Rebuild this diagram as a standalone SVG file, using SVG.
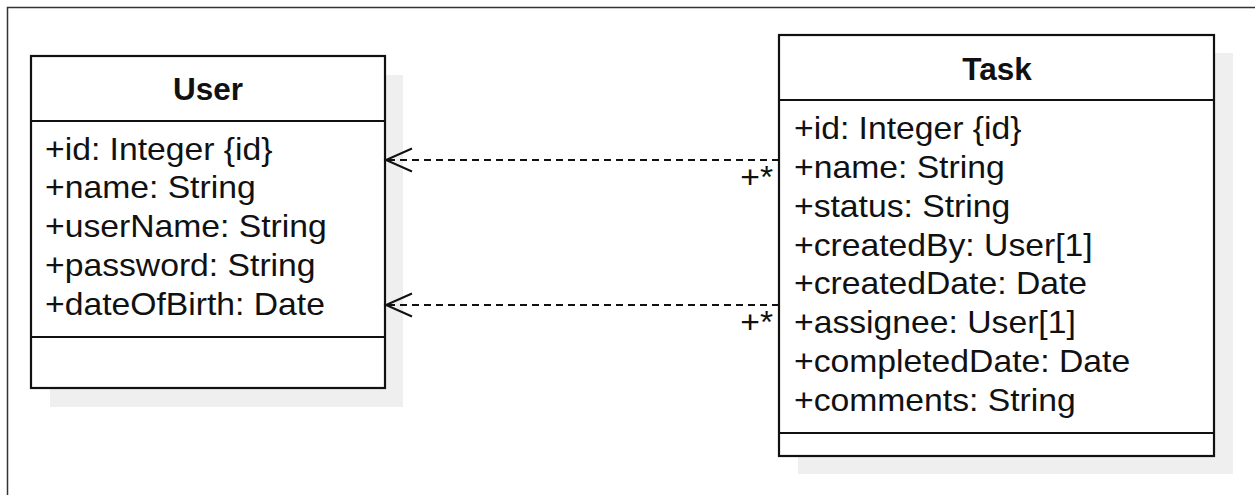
<svg xmlns="http://www.w3.org/2000/svg" width="1255" height="495" viewBox="0 0 1255 495">
<style>
.box{fill:#ffffff;stroke:#111111;stroke-width:2.2}
.shadow{fill:#efefef;stroke:none}
.div{stroke:#111111;stroke-width:2.2}
.title{font-family:"Liberation Sans",Arial,sans-serif;font-weight:bold;font-size:31.5px;fill:#111111;text-anchor:middle}
.attr{font-family:"Liberation Sans",Arial,sans-serif;font-size:30.5px;fill:#111111}
.mult{font-family:"Liberation Sans",Arial,sans-serif;font-size:30.5px;fill:#111111;text-anchor:end}
.dep{fill:none;stroke:#111111;stroke-width:2;stroke-dasharray:7 5}
.head{fill:none;stroke:#111111;stroke-width:2}
</style>
<rect x="0" y="0" width="1255" height="495" fill="#ffffff"/>
<path d="M7.5,495 V7.5 H1255" fill="none" stroke="#333333" stroke-width="1.5"/>

<g id="User">
<rect class="shadow" x="50" y="75" width="353" height="332"/>
<rect class="box" x="31" y="56" width="354" height="332"/>
<line class="div" x1="31" y1="121" x2="385" y2="121"/>
<line class="div" x1="31" y1="337" x2="385" y2="337"/>
<text class="title" x="208" y="100">User</text>
<g transform="translate(45,0) scale(1.105,1)">
<text class="attr" x="0" y="160">+id: Integer {id}</text>
<text class="attr" x="0" y="198.5">+name: String</text>
<text class="attr" x="0" y="237.5">+userName: String</text>
<text class="attr" x="0" y="276">+password: String</text>
<text class="attr" x="0" y="315">+dateOfBirth: Date</text>
</g>
</g>

<g id="Task">
<rect class="shadow" x="798" y="53" width="435" height="421"/>
<rect class="box" x="779" y="35" width="435" height="421"/>
<line class="div" x1="779" y1="100" x2="1214" y2="100"/>
<line class="div" x1="779" y1="433" x2="1214" y2="433"/>
<text class="title" x="997" y="80">Task</text>
<g transform="translate(794,0) scale(1.105,1)">
<text class="attr" x="0" y="139">+id: Integer {id}</text>
<text class="attr" x="0" y="178">+name: String</text>
<text class="attr" x="0" y="217">+status: String</text>
<text class="attr" x="0" y="256">+createdBy: User[1]</text>
<text class="attr" x="0" y="294.5">+createdDate: Date</text>
<text class="attr" x="0" y="333.5">+assignee: User[1]</text>
<text class="attr" x="0" y="372.5">+completedDate: Date</text>
<text class="attr" x="0" y="411.5">+comments: String</text>
</g>
</g>

<g id="connectors">
<line class="dep" x1="779" y1="160" x2="386" y2="160"/>
<path class="head" d="M412,148.5 L386,160 L412,171.5"/>
<g transform="translate(773,0) scale(1.105,1)"><text class="mult" x="0" y="188.5">+*</text></g>
<line class="dep" x1="779" y1="305" x2="386" y2="305"/>
<path class="head" d="M412,293.5 L386,305 L412,316.5"/>
<g transform="translate(773,0) scale(1.105,1)"><text class="mult" x="0" y="333.5">+*</text></g>
</g>
</svg>
